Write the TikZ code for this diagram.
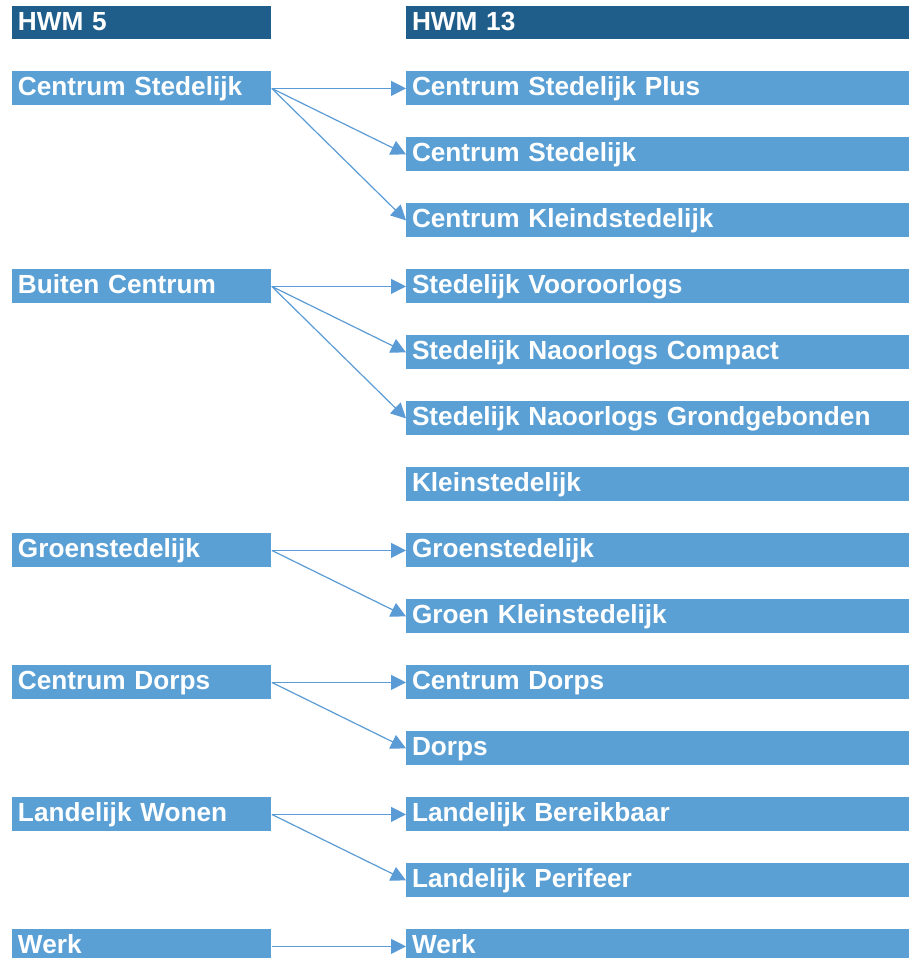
\documentclass[tikz,border=0pt]{standalone}
\usepackage{fontspec}
\setmainfont{Liberation Sans}
\usetikzlibrary{arrows.meta}
\definecolor{hwmdark}{HTML}{1F5D8B}
\definecolor{hwmlight}{HTML}{5AA0D5}
\definecolor{hwmline}{HTML}{5B9BD5}
\tikzset{
	box/.style={fill=hwmlight, text=white, font=\bfseries\fontsize{13.1}{15}\selectfont, anchor=north west, minimum height=17pt, inner xsep=2.8pt, inner ysep=0pt, text height=0.72em, text depth=0pt, align=left},
	oldbox/.style={box, text width=123.9pt},
	newbox/.style={box, text width=245.9pt},
	head/.style={fill=hwmdark, minimum height=16.5pt},
	link/.style={draw=hwmline, line width=0.6pt, -{Triangle[length=7.5pt,width=7.5pt]}},
}
\begin{document}
\begin{tikzpicture}[x=0.5pt,y=-0.5pt]
	\useasboundingbox (0,0) rectangle (909,958);
	\clip (0,0) rectangle (909,958);
	%headers
	\node[oldbox,head] (h5) at (12,6) {HWM 5}; %old model
	\node[newbox,head] (h13) at (406,6) {HWM 13}; %new model

	%HWM 5 ------------------------------------------------
	\node[oldbox] (cs) at (12,71) {Centrum Stedelijk};
	\node[oldbox] (bc) at (12,269) {Buiten Centrum};
	\node[oldbox] (gs) at (12,533) {Groenstedelijk};
	\node[oldbox] (cd) at (12,665) {Centrum Dorps};
	\node[oldbox] (lw) at (12,797) {Landelijk Wonen};
	\node[oldbox] (wk) at (12,929) {Werk};

	%HWM 13 -----------------------------------------------
	\node[newbox] (csp) at (406,71) {Centrum Stedelijk Plus};
	\node[newbox] (cs2) at (406,137) {Centrum Stedelijk};
	\node[newbox] (ck) at (406,203) {Centrum Kleindstedelijk};
	\node[newbox] (sv) at (406,269) {Stedelijk Vooroorlogs};
	\node[newbox] (snc) at (406,335) {Stedelijk Naoorlogs Compact};
	\node[newbox] (sng) at (406,401) {Stedelijk Naoorlogs Grondgebonden};
	\node[newbox] (ks) at (406,467) {Kleinstedelijk};
	\node[newbox] (gs2) at (406,533) {Groenstedelijk};
	\node[newbox] (gk) at (406,599) {Groen Kleinstedelijk};
	\node[newbox] (cd2) at (406,665) {Centrum Dorps};
	\node[newbox] (dp) at (406,731) {Dorps};
	\node[newbox] (lb) at (406,797) {Landelijk Bereikbaar};
	\node[newbox] (lp) at (406,863) {Landelijk Perifeer};
	\node[newbox] (wk2) at (406,929) {Werk};

	%arrows
	\draw[link] (cs.east) -- (csp.west);
	\draw[link] (cs.east) -- (cs2.west);
	\draw[link] (cs.east) -- (ck.west);
	\draw[link] (bc.east) -- (sv.west);
	\draw[link] (bc.east) -- (snc.west);
	\draw[link] (bc.east) -- (sng.west);
	\draw[link] (gs.east) -- (gs2.west);
	\draw[link] (gs.east) -- (gk.west);
	\draw[link] (cd.east) -- (cd2.west);
	\draw[link] (cd.east) -- (dp.west);
	\draw[link] (lw.east) -- (lb.west);
	\draw[link] (lw.east) -- (lp.west);
	\draw[link] (wk.east) -- (wk2.west);
\end{tikzpicture}
\end{document}
